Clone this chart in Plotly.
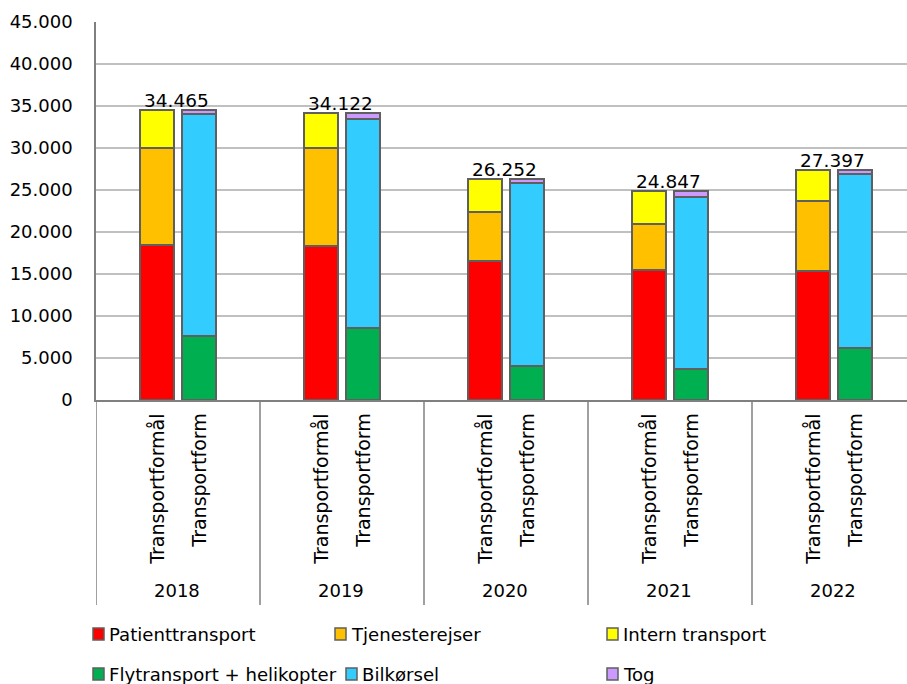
import plotly.graph_objects as go

# --- data -------------------------------------------------------------
years = ["2018", "2019", "2020", "2021", "2022"]
bar_labels = ["Transportformål", "Transportform"]

# Transportformål (purpose of travel)
patienttransport = [18490, 18370, 16510, 15510, 15360]
tjenesterejser = [11550, 11670, 5910, 5440, 8370]
intern_transport = [4425, 4082, 3832, 3897, 3667]

# Transportform (mode of travel)
flytransport = [7650, 8540, 4080, 3690, 6230]
bilkoersel = [26350, 24950, 21720, 20440, 20675]
tog = [465, 632, 452, 717, 492]

y_ticks = [0, 5000, 10000, 15000, 20000, 25000, 30000, 35000, 40000, 45000]

# --- layout helpers --------------------------------------------------
W, H = 907, 684
ML, MT, MB = 96, 22, 284
plot_w = W - ML
plot_h = H - MT - MB
group_px = 164.0                      # width of one year group in pixels
x_max = plot_w / group_px             # x range so the groups fill the width
off_a, off_b = 0.374, 0.626           # bar centres inside a year group
bar_w = 34 / group_px

def px_x(px):
    return (px - ML) / plot_w

def px_y(py):
    return (H - MB - py) / plot_h

FONT = "Verdana, DejaVu Sans, sans-serif"
EDGE = "#5F5F5F"

series = [
    ("Patienttransport", patienttransport, "#FF0000", off_a),
    ("Tjenesterejser", tjenesterejser, "#FFC000", off_a),
    ("Intern transport", intern_transport, "#FFFF00", off_a),
    ("Flytransport + helikopter", flytransport, "#00B050", off_b),
    ("Bilkørsel", bilkoersel, "#33CCFF", off_b),
    ("Tog", tog, "#CC99FF", off_b),
]

fig = go.Figure()
for name, vals, color, off in series:
    fig.add_trace(go.Bar(
        name=name,
        x=[i + off for i in range(len(years))],
        y=vals,
        width=bar_w,
        marker=dict(color=color, line=dict(color=EDGE, width=2)),
        showlegend=False,
        hovertemplate=name + ": %{y:,d}<extra></extra>",
    ))

annotations = []
shapes = []

# totals above each year
for i, yr in enumerate(years):
    total = patienttransport[i] + tjenesterejser[i] + intern_transport[i]
    annotations.append(dict(
        x=i + 0.5, y=total, xref="x", yref="y",
        text=f"{total:,}".replace(",", "."),
        showarrow=False, xanchor="center", yanchor="bottom",
        yshift=-3, xshift=-2,
        font=dict(family=FONT, size=18.5, color="#000000"),
    ))

# category labels (rotated) and year labels below the axis
for i, yr in enumerate(years):
    for lab, off in zip(bar_labels, (off_a, off_b)):
        annotations.append(dict(
            x=i + off, y=px_y(412), xref="x", yref="paper",
            text=lab, textangle=-90, showarrow=False,
            xanchor="center", yanchor="top",
            font=dict(family=FONT, size=19, color="#000000"),
        ))
    annotations.append(dict(
        x=i + 0.5, y=px_y(590), xref="x", yref="paper",
        text=yr, showarrow=False, xanchor="center", yanchor="middle",
        xshift=-1,
        font=dict(family=FONT, size=18, color="#000000"),
    ))

# group separators below the axis
for i in range(len(years) + 1):
    shapes.append(dict(
        type="line", xref="x", yref="paper",
        x0=i, x1=i, y0=0, y1=px_y(605),
        line=dict(color="#808080", width=1.5),
    ))

# legend drawn as squares + labels in three columns
legend_pos = [
    (107, 634), (349, 634), (621, 634),
    (107, 674), (360, 674), (621, 674),
]
for (name, vals, color, off), (tx, ty) in zip(series, legend_pos):
    shapes.append(dict(
        type="rect", xref="paper", yref="paper",
        x0=px_x(tx - 14), x1=px_x(tx - 3),
        y0=px_y(ty + 6), y1=px_y(ty - 6),
        fillcolor=color, line=dict(color=EDGE, width=1.5),
    ))
    annotations.append(dict(
        x=px_x(tx), y=px_y(ty), xref="paper", yref="paper",
        text=name, showarrow=False, xanchor="left", yanchor="middle",
        font=dict(family=FONT, size=18.1, color="#000000"),
    ))

fig.update_layout(
    width=W, height=H,
    margin=dict(l=ML, r=0, t=MT, b=MB),
    barmode="stack",
    plot_bgcolor="white", paper_bgcolor="white",
    separators=",.",
    showlegend=False,
    annotations=annotations,
    shapes=shapes,
    xaxis=dict(
        range=[0, x_max], showgrid=False, zeroline=False,
        showticklabels=False, ticks="",
        showline=True, linecolor="#808080", linewidth=1.5,
        fixedrange=True,
    ),
    yaxis=dict(
        range=[0, 45000], tickvals=y_ticks, tickformat=",d",
        showgrid=True, gridcolor="#C0C0C0", gridwidth=1.5,
        zeroline=False, showline=True, linecolor="#808080", linewidth=1.5,
        ticks="", ticklabelstandoff=18,
        tickfont=dict(family=FONT, size=18, color="#000000"),
        fixedrange=True,
    ),
)

fig.write_html("out.html")
